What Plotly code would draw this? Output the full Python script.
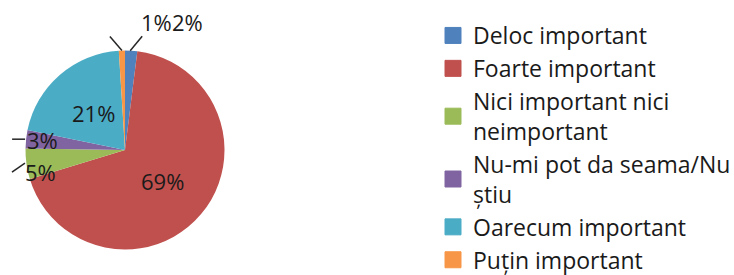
import math
import plotly.graph_objects as go

labels = ["Deloc important", "Foarte important", "Nici important nici<br>neimportant",
          "Nu-mi pot da seama/Nu<br>știu", "Oarecum important", "Puțin important"]
values = [2, 69, 5, 3, 21, 1]
colors = ["#4F81BD", "#C0504D", "#9BBB59", "#8064A2", "#4BACC6", "#F79646"]
inside = [False, True, False, False, True, False]

W, H = 734, 275
cx, cy, r = 125, 150, 99.5
FONT = "Open Sans"
TXT = "#1a1a1a"
INNER_FRAC = 0.49  # inside labels sit at this fraction of the radius

# style offsets (pixels) of outside labels / leader lines relative to slice edge point
label_off = {0: (56, -28.7), 2: (14.5, 8.2), 3: (16, 0.7), 5: (35, -28.5)}
line_off = {0: ((-1, 0), (11, -14.5)), 2: ((-1.5, -0.8), (-14.5, 8.2)),
            3: ((-1, 0), (-14, 0)), 5: ((0, 0), (-12, -14))}

fig = go.Figure()
fig.add_trace(go.Pie(
    labels=labels, values=values, sort=False, direction="clockwise", rotation=0,
    marker=dict(colors=colors, line=dict(width=0)),
    textinfo="none",
    domain=dict(x=[(cx - r) / W, (cx + r) / W], y=[(H - cy - r) / H, (H - cy + r) / H]),
    showlegend=False, hoverinfo="label+percent",
))

# legend entries (square markers)
for lab, col in zip(labels, colors):
    fig.add_trace(go.Scatter(x=[None], y=[None], mode="markers", name=lab,
                             marker=dict(symbol="square", size=16, color=col,
                                         line=dict(width=1, color=col)),
                             showlegend=True, hoverinfo="skip"))

# data labels anchored on each slice's mid angle
total = sum(values)
cum = 0
for i, v in enumerate(values):
    mid = (cum + v / 2) / total * 2 * math.pi
    cum += v
    s, c = math.sin(mid), math.cos(mid)
    if inside[i]:
        tx, ty = cx + INNER_FRAC * r * s, cy - INNER_FRAC * r * c
    else:
        ex, ey = cx + r * s, cy - r * c
        tx, ty = ex + label_off[i][0], ey + label_off[i][1]
        (a0, b0), (a1, b1) = line_off[i]
        fig.add_shape(type="line", xref="paper", yref="paper",
                      x0=(ex + a0) / W, y0=1 - (ey + b0) / H,
                      x1=(ex + a1) / W, y1=1 - (ey + b1) / H,
                      line=dict(color="#262626", width=1.5))
    fig.add_annotation(x=tx / W, y=1 - ty / H, xref="paper", yref="paper",
                       text=f"{v}%", showarrow=False, xanchor="center", yanchor="middle",
                       font=dict(family=FONT, size=22, color=TXT))

fig.update_layout(
    width=W, height=H, margin=dict(l=0, r=0, t=0, b=0, autoexpand=False),
    paper_bgcolor="white", plot_bgcolor="white",
    xaxis=dict(visible=False), yaxis=dict(visible=False),
    legend=dict(x=433 / W, y=1 - 14 / H, xanchor="left", yanchor="top",
                font=dict(family=FONT, size=23, color=TXT),
                itemwidth=30, tracegroupgap=0, borderwidth=0, bgcolor="rgba(0,0,0,0)"),
)
fig.write_html("out.html", config={"displayModeBar": False},
               post_script="document.body.style.margin='0';document.body.style.overflow='hidden';")
